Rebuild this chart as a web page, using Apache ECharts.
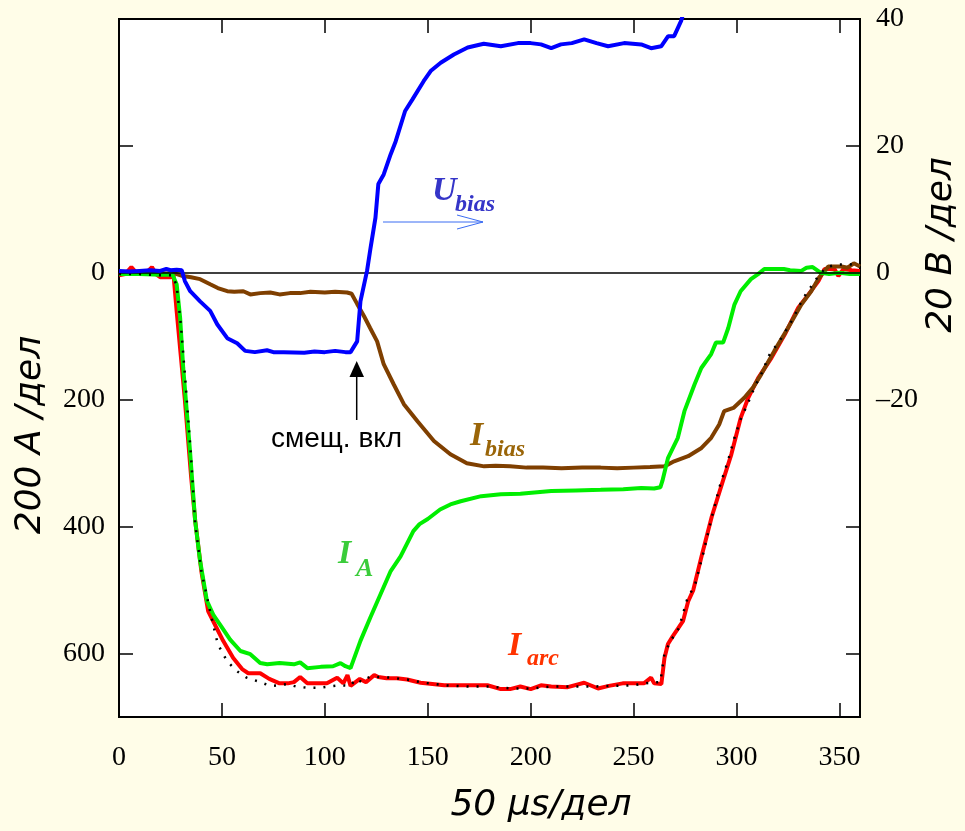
<!DOCTYPE html>
<html><head><meta charset="utf-8">
<script src="https://cdn.jsdelivr.net/npm/echarts@6/dist/echarts.min.js"></script>
<style>html,body{margin:0;padding:0;background:#fffde8}#c{width:965px;height:831px}</style>
</head><body><div id="c"></div>
<script>
// time in µs-units (x), currents in A (left axis, inverted), voltage in V (right axis)
const iArc = [[0,4],[3,2],[6,-9],[9,2],[13,1],[16,-9],[18,2],[20,7],[25,7],[26.5,4],[28,60],[30,130],[32,200],[35,320],[37,390],[40,470],[43.3,533],[47,557],[50.6,580],[55.5,607],[60,625],[62.8,631],[68.6,631],[73,640],[78,647],[82,647],[85,645],[88,637],[91.5,647],[101,647],[106,638],[109,647],[111,634],[112.5,651],[117,640],[120,645],[124,634],[126,637],[130,639],[135,639],[140,641],[146.5,646],[158,650],[170,650],[179,650],[185.5,656],[190,656],[195,652],[200,656],[205,650],[210,652],[218,653],[226,646],[232.7,655],[238,651],[244.7,647],[255,647],[258.5,638],[260,647],[263.5,648],[265,607],[266.7,585],[269,573],[274,549],[276.5,518],[279,500],[283,447],[288,384],[293.4,328],[297.5,286],[302,229],[305.7,197],[310.5,166],[317,134],[323.5,97],[330,55],[335,34],[339.8,13],[342.8,-6],[347.6,-6],[349.5,5],[352,-6],[356,-4],[360,-3]];
const iA = [[0,2],[10,2],[20,3],[26,3],[28,18],[29.7,71],[31.2,150],[34.5,281],[37,391],[39.4,454],[42.7,517],[46,540],[49,554],[54,578],[59,596],[63.8,601],[68.6,615],[72,617],[78,615],[85,617],[88,614],[91.5,623],[98,621],[104,620],[107.6,615],[110,620],[112.5,623],[117.3,580],[122,544],[127,507],[132,470],[136.8,447],[143,407],[146,396],[150,388],[156,373],[161,365],[166,360],[176,352],[185.5,349],[195,348],[210,344],[222,343],[234,342],[245,341],[253.7,339],[260,340],[263,338],[264,328],[266.7,292],[271.5,260],[274.7,218],[279.6,176],[282.9,150],[287.7,128],[290,110],[293.5,110],[296,87],[299,50],[302,29],[307,10],[310.5,2],[313.5,-6],[323,-6],[326,-4],[331.5,-3],[334,-8],[337,-9],[341,0],[345,2],[350,0],[355,2],[360,2]];
const iBias = [[0,0],[10,0],[20,1],[27,1],[31,5],[35,7],[39.4,10],[44.3,18],[48,24],[52.6,29],[56,30],[60.4,29],[63.8,34],[68.6,32],[73.5,31],[78,34],[83,32],[88,32],[93,30],[100,31],[105,30],[110.8,31],[113,33],[115.7,49],[119,68],[122,87],[125.4,108],[128.6,144],[133.5,176],[138.4,207],[145,234],[153,265],[161,286],[169,300],[177.4,305],[183,304],[190,305],[198,307],[206,307],[215,308],[225,307],[234,307],[242,308],[250,307],[258,306],[265,305],[269.7,297],[276.5,289],[283,276],[287.7,260],[291.6,239],[294,218],[298.5,213],[303.8,197],[308,181],[312,160],[318.4,123],[325,87],[331.5,50],[336.3,29],[340,8],[344.6,-10],[348,-10],[351,-10],[354,-8],[357,-15],[360,-10]];
const iSum = [[0,2],[10,2],[20,4],[26,4],[28,20],[30,80],[32,160],[35,290],[37,395],[40,470],[45,544],[48,585],[52.5,612],[57.4,628],[62,638],[67.7,644],[73.5,651],[78,650],[81.8,648],[86,652],[91.5,654],[97,654],[102,652],[107.6,650],[112.5,651],[115,640],[118,645],[122,636],[126,637],[132,638],[140,641],[148,646],[158,650],[170,652],[180,652],[190,655],[200,655],[210,652],[220,652],[230,652],[240,651],[250,650],[258,646],[263,645],[265,600],[268,580],[272,560],[276,515],[280,490],[284,440],[288,385],[292,335],[295.8,297],[299,260],[302,231],[306,202],[308.7,181],[313.5,150],[315,134],[321.8,103],[327.7,71],[330,55],[333,37],[336.4,21],[339.8,5],[343.7,-9],[348.5,-13],[354,-13],[359,-14]];
const uBias = [[0,0.3],[5,0.2],[10,0.3],[15,0.4],[20,0.3],[23,0.6],[25,0.4],[28,0.5],[30.5,0.4],[32,-1.3],[34.6,-2.9],[39.4,-4.5],[44.3,-6],[47.7,-8.1],[52.6,-10.3],[57.4,-11.1],[61.3,-12.3],[66,-12.5],[71.9,-12.2],[75,-12.5],[80,-12.5],[90,-12.6],[95,-12.4],[100,-12.5],[105,-12.3],[110,-12.5],[112.5,-12.5],[115.7,-10.8],[117.3,-4.5],[120.5,0.3],[122.2,3.9],[124.6,8.7],[126,14],[128.6,15.5],[132,18.7],[134.4,20.7],[139,25.5],[142.5,27.3],[148,30.2],[151.4,31.8],[156.3,33.1],[162.7,34.4],[169.4,35.5],[177.2,36.1],[185.5,35.7],[193.8,36.2],[200,36.2],[205,36],[210,35.4],[214.7,36],[220,36.2],[226,36.8],[232,36.2],[237.6,35.7],[245.4,36.2],[253.7,36],[258.5,35.4],[263.4,35.7],[266.8,37.3],[269.7,37.3],[273.1,39.7],[276,43]];

const xTicks = [0,50,100,150,200,250,300,350];
const leftTicks = [-400,-200,0,200,400,600];
const leftLabels = [0,200,400,600];
const rightTicks = [-60,-40,-20,0,20,40];
const rightLabels = [-20,0,20,40];

const labelFont = {fontFamily:'Liberation Serif', fontSize:28, color:'#000'};
const titleFont = 'italic 36px "DejaVu Sans"';
const axLine = {show:true, onZero:false, lineStyle:{color:'#000', width:2}};
const tickStyle = {color:'#000', width:1.5};

const chart = echarts.init(document.getElementById('c'));
chart.setOption({
  backgroundColor:'#fffde8',
  animation:false,
  grid:{left:119, right:105, top:19, bottom:114, outerBoundsMode:'none', containLabel:false,
        show:true, backgroundColor:'#ffffff', borderColor:'#000', borderWidth:2},
  xAxis:[
    {type:'value', min:0, max:360, position:'bottom', axisLine:axLine,
     axisTick:{inside:true, length:14, lineStyle:tickStyle, customValues:xTicks},
     axisLabel:Object.assign({customValues:xTicks, margin:27}, labelFont),
     splitLine:{show:false}},
    {type:'value', min:0, max:360, position:'top', axisLine:axLine,
     axisTick:{inside:true, length:14, lineStyle:tickStyle, customValues:xTicks},
     axisLabel:{show:false}, splitLine:{show:false}}
  ],
  yAxis:[
    {type:'value', inverse:true, min:-400, max:700, position:'left', axisLine:axLine,
     axisTick:{inside:true, length:14, lineStyle:tickStyle, customValues:leftTicks},
     axisLabel:Object.assign({customValues:leftLabels, margin:14}, labelFont),
     splitLine:{show:false}},
    {type:'value', min:-70, max:40, position:'right', axisLine:axLine,
     axisTick:{inside:true, length:14, lineStyle:tickStyle, customValues:rightTicks},
     axisLabel:Object.assign({customValues:rightLabels, margin:16,
       formatter:v => v < 0 ? '–' + Math.abs(v) : String(v)}, labelFont),
     splitLine:{show:false}}
  ],
  series:[
    {name:'Iarc', type:'line', data:iArc, yAxisIndex:0, showSymbol:false, z:2,
     lineStyle:{color:'#ff0000', width:4},
     markLine:{silent:true, symbol:'none', label:{show:false}, lineStyle:{color:'#000', width:1.5, type:'solid'}, data:[{yAxis:0}]}},
    {name:'Ibias', type:'line', data:iBias, yAxisIndex:0, showSymbol:false, z:3,
     lineStyle:{color:'#7f3f00', width:4}},
    {name:'IA', type:'line', data:iA, yAxisIndex:0, showSymbol:false, z:4,
     lineStyle:{color:'#00ee00', width:4}},
    {name:'Isum', type:'line', data:iSum, yAxisIndex:0, showSymbol:false, z:5,
     lineStyle:{color:'#000', width:2.5, type:[2,8]}},
    {name:'Ubias', type:'line', data:uBias, yAxisIndex:1, showSymbol:false, z:6, clip:true,
     lineStyle:{color:'#0000ff', width:4}}
  ],
  graphic:[
    {type:'text', x:31, y:435, rotation:Math.PI/2, z:10, style:{text:'200 A /дел', font:titleFont, fill:'#000', align:'center', verticalAlign:'middle'}},
    {type:'text', x:942, y:245, rotation:Math.PI/2, z:10, style:{text:'20 B /дел', font:titleFont, fill:'#000', align:'center', verticalAlign:'middle'}},
    {type:'text', x:541, y:806, z:10, style:{text:'50 μs/дел', font:titleFont, fill:'#000', align:'center', verticalAlign:'middle'}},
    {type:'text', x:432, y:191, z:10, style:{text:'U', font:'bold italic 34px "Liberation Serif"', fill:'#3535c8', verticalAlign:'middle'}},
    {type:'text', x:455, y:205, z:10, style:{text:'bias', font:'bold italic 24px "Liberation Serif"', fill:'#3535c8', verticalAlign:'middle'}},
    {type:'line', z:10, shape:{x1:383, y1:222, x2:483, y2:222}, style:{stroke:'#3b6cf2', lineWidth:1}},
    {type:'polyline', z:10, shape:{points:[[457,215],[483,222],[457,229]]}, style:{stroke:'#3b6cf2', lineWidth:1, fill:null}},
    {type:'text', x:470, y:436, z:10, style:{text:'I', font:'bold italic 34px "Liberation Serif"', fill:'#9a6508', verticalAlign:'middle'}},
    {type:'text', x:485, y:450, z:10, style:{text:'bias', font:'bold italic 24px "Liberation Serif"', fill:'#9a6508', verticalAlign:'middle'}},
    {type:'text', x:338, y:554, z:10, style:{text:'I', font:'bold italic 34px "Liberation Serif"', fill:'#3acc3a', verticalAlign:'middle'}},
    {type:'text', x:356, y:569, z:10, style:{text:'A', font:'bold italic 26px "Liberation Serif"', fill:'#3acc3a', verticalAlign:'middle'}},
    {type:'text', x:508, y:646, z:10, style:{text:'I', font:'bold italic 34px "Liberation Serif"', fill:'#ff3300', verticalAlign:'middle'}},
    {type:'text', x:527, y:659, z:10, style:{text:'arc', font:'bold italic 24px "Liberation Serif"', fill:'#ff3300', verticalAlign:'middle'}},
    {type:'text', x:271, y:439, z:10, style:{text:'смещ. вкл', font:'28px "Liberation Sans"', fill:'#000', verticalAlign:'middle'}},
    {type:'line', z:10, shape:{x1:356.7, y1:420, x2:356.7, y2:376}, style:{stroke:'#000', lineWidth:1.5}},
    {type:'polygon', z:10, shape:{points:[[349.5,377],[364,377],[356.7,361]]}, style:{fill:'#000'}}
  ]
});
</script></body></html>
